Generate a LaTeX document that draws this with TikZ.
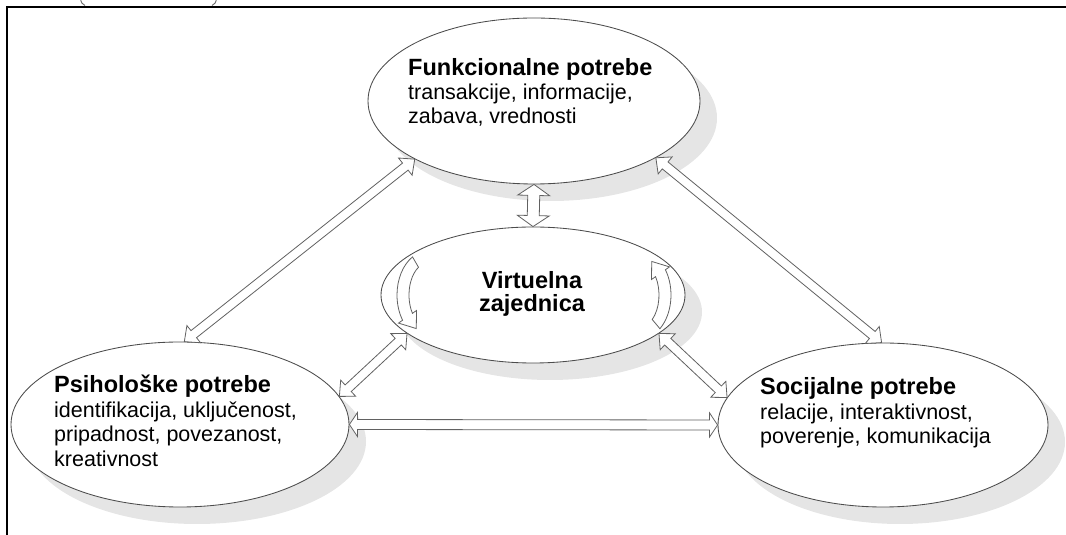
\documentclass[tikz,border=0pt]{standalone}
\usepackage{fontspec}
\setmainfont{Liberation Sans}
\usetikzlibrary{shapes.geometric,shadows,calc}

\tikzset{
  needell/.style={ellipse, draw=black!70, line width=0.85pt, fill=white, inner sep=0pt,
    drop shadow={shadow xshift=17pt, shadow yshift=-17pt, fill=black!10, opacity=1}},
  blockarr/.style={draw=black!62, line width=0.8pt, fill=white, line join=miter},
  titletext/.style={anchor=base west, inner sep=0pt, font=\bfseries\fontsize{23.5}{23.5}\selectfont},
  bodytext/.style={anchor=base west, inner sep=0pt, font=\fontsize{21.5}{21.5}\selectfont},
  cellrule/.style={line width=2.6pt, black},
  cutglyph/.style={black!60, line width=0.9pt}
}

% hollow double-headed block arrow between two points:
% #1 start, #2 end, #3 half shaft width, #4 half head width, #5 head length
\newcommand{\blockarrow}[5]{%
  \coordinate (ba1) at ($(#1)!#5!(#2)$);
  \coordinate (ba2) at ($(#2)!#5!(#1)$);
  \draw[blockarr] (#1) -- ($(ba1)!#4!90:(#2)$) -- ($(ba1)!#3!90:(#2)$)
    -- ($(ba2)!#3!-90:(#1)$) -- ($(ba2)!#4!-90:(#1)$) -- (#2)
    -- ($(ba2)!#4!90:(#1)$) -- ($(ba2)!#3!90:(#1)$)
    -- ($(ba1)!#3!-90:(#2)$) -- ($(ba1)!#4!-90:(#2)$) -- cycle;}

\begin{document}
\begin{tikzpicture}[x=1pt,y=1pt]
\useasboundingbox (0,0) rectangle (1066,535);

% table cell border
\draw[cellrule] (7,-5) -- (7,528) -- (1075,528);
% glyph remnants of the line above the cell
\draw[cutglyph] (80.5,537) .. controls (81,532) and (82.5,530.5) .. (85,529.5);
\draw[cutglyph] (216.5,537) .. controls (216,532) and (214.5,530.5) .. (212,529.5);

% the four groups of needs
\node[needell, minimum width=332pt, minimum height=166pt] (fun) at (534,434) {};
\node[needell, minimum width=338pt, minimum height=165pt] (psi) at (180,110.5) {};
\node[needell, minimum width=330pt, minimum height=164pt] (soc) at (883,110) {};
\node[needell, minimum width=304pt, minimum height=136pt] (vir) at (533,240) {};

% links between the groups
\blockarrow{fun.206}{psi.87}{4.5pt}{11pt}{12pt}
\blockarrow{fun.335}{soc.91}{4.5pt}{11pt}{12pt}
\blockarrow{fun.south}{vir.north}{6pt}{16pt}{11pt}
\blockarrow{vir.197}{psi.10}{4.5pt}{11pt}{12pt}
\blockarrow{vir.343}{soc.170}{4.5pt}{11pt}{12pt}
\blockarrow{psi.east}{soc.west}{5pt}{12pt}{8pt}

% circular arrows inside the community
\coordinate (lc) at (428,240);
\draw[blockarr] ($(lc)+(120:31 and 44)$) arc[start angle=120, end angle=215, x radius=31, y radius=44]
  -- ($(lc)+(215:36 and 49)$) -- ($(lc)+(242:25 and 38)$) -- ($(lc)+(215:14 and 27)$)
  -- ($(lc)+(215:19 and 32)$) arc[start angle=215, end angle=120, x radius=19, y radius=32] -- cycle;
\coordinate (rc) at (640,240);
\draw[blockarr] ($(rc)+(-50:31 and 44)$) arc[start angle=-50, end angle=35, x radius=31, y radius=44]
  -- ($(rc)+(35:36 and 49)$) -- ($(rc)+(62:25 and 38)$) -- ($(rc)+(35:14 and 27)$)
  -- ($(rc)+(35:19 and 32)$) arc[start angle=35, end angle=-50, x radius=19, y radius=32] -- cycle;

% labels
\node[titletext] (funT) at (408,459) {Funkcionalne potrebe};
\node[bodytext] (funA) at (408,435) {transakcije, informacije,};
\node[bodytext] (funB) at (408,411) {zabava, vrednosti};

\node[titletext] (psiT) at (54,142) {Psihološke potrebe};
\node[bodytext] (psiA) at (54,117.5) {identifikacija, uključenost,};
\node[bodytext] (psiB) at (54,93) {pripadnost, povezanost,};
\node[bodytext] (psiC) at (54,68.5) {kreativnost};

\node[titletext] (socT) at (760,140) {Socijalne potrebe};
\node[bodytext] (socA) at (760,115.5) {relacije, interaktivnost,};
\node[bodytext] (socB) at (760,91) {poverenje, komunikacija};

\node[titletext, anchor=base] (virT) at (532,246.7) {Virtuelna};
\node[titletext, anchor=base] (virB) at (532,223.3) {zajednica};
\end{tikzpicture}
\end{document}
